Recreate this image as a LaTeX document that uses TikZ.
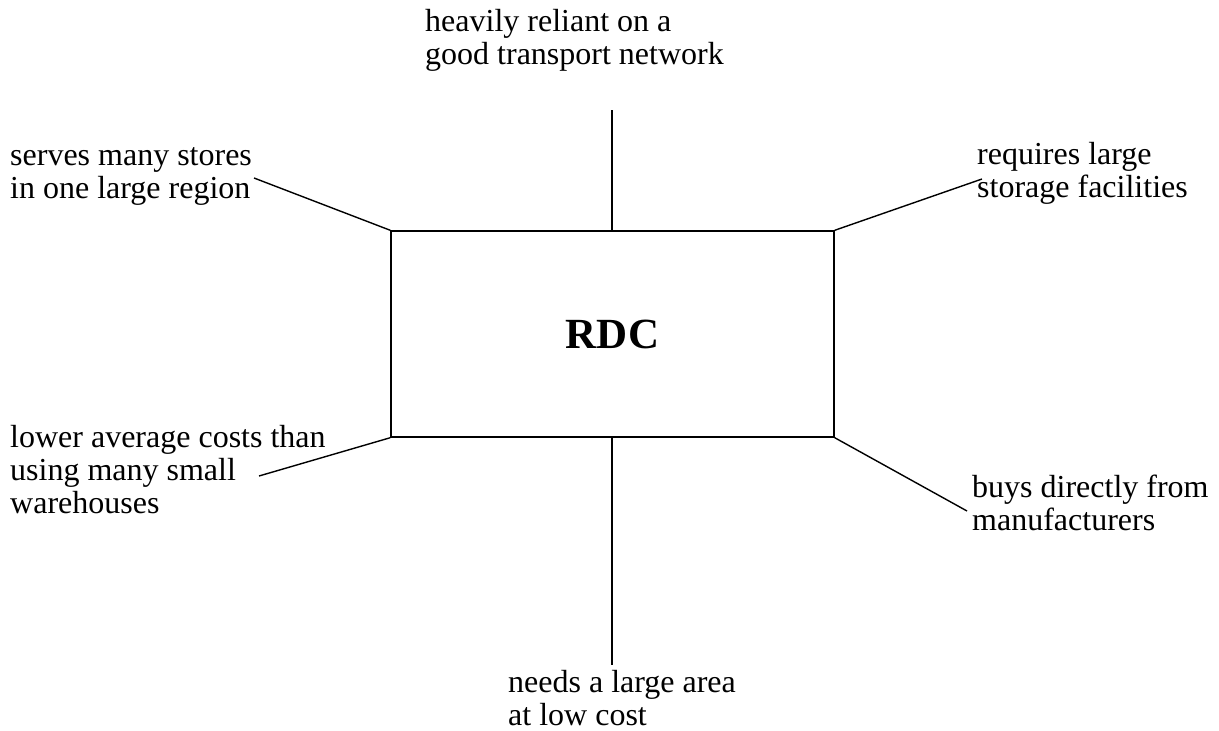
\documentclass[tikz,border=0pt]{standalone}
\usepackage{fontspec}
\setmainfont{Liberation Serif}
\begin{document}
\begin{tikzpicture}[x=1pt,y=-1pt,
  lbl/.style={anchor=base west,inner sep=0pt,align=left,font=\fontsize{32}{33}\selectfont},
  conn/.style={line width=1.4pt,black}]
\useasboundingbox (0,0) rectangle (1219,731);
\fill[white] (0,0) rectangle (1219,731);
\node[draw,line width=1.4pt,minimum width=443pt,minimum height=206pt,inner sep=0pt,
  font=\fontsize{43}{45}\selectfont\bfseries] (rdc) at (612.5,334) {RDC};
% labels (anchor = baseline of last line)
\node[lbl] (t1) at (425,64) {heavily reliant on a\\good transport network};
\node[lbl] (t2) at (10,198) {serves many stores\\in one large region};
\node[lbl] (t3) at (977,197) {requires large\\storage facilities};
\node[lbl] (t4) at (10,513) {lower average costs than\\using many small\\warehouses};
\node[lbl] (t5) at (972,530) {buys directly from\\manufacturers};
\node[lbl] (t6) at (508,725) {needs a large area\\at low cost};
% free ends
\coordinate (e1) at (612,110);
\coordinate (e2) at (254,178);
\coordinate (e3) at (982,179);
\coordinate (e4) at (259,476);
\coordinate (e5) at (967,511);
\coordinate (e6) at (612,665);
\draw[conn] (rdc.north) ++(-0.5,0) coordinate (rn) -- (e1);
\draw[conn] (rdc.north west) -- (e2);
\draw[conn] (rdc.north east) -- (e3);
\draw[conn] (rdc.south west) -- (e4);
\draw[conn] (rdc.south east) -- (e5);
\draw[conn] (rdc.south) ++(-0.5,0) coordinate (rs) -- (e6);
\end{tikzpicture}
\end{document}
